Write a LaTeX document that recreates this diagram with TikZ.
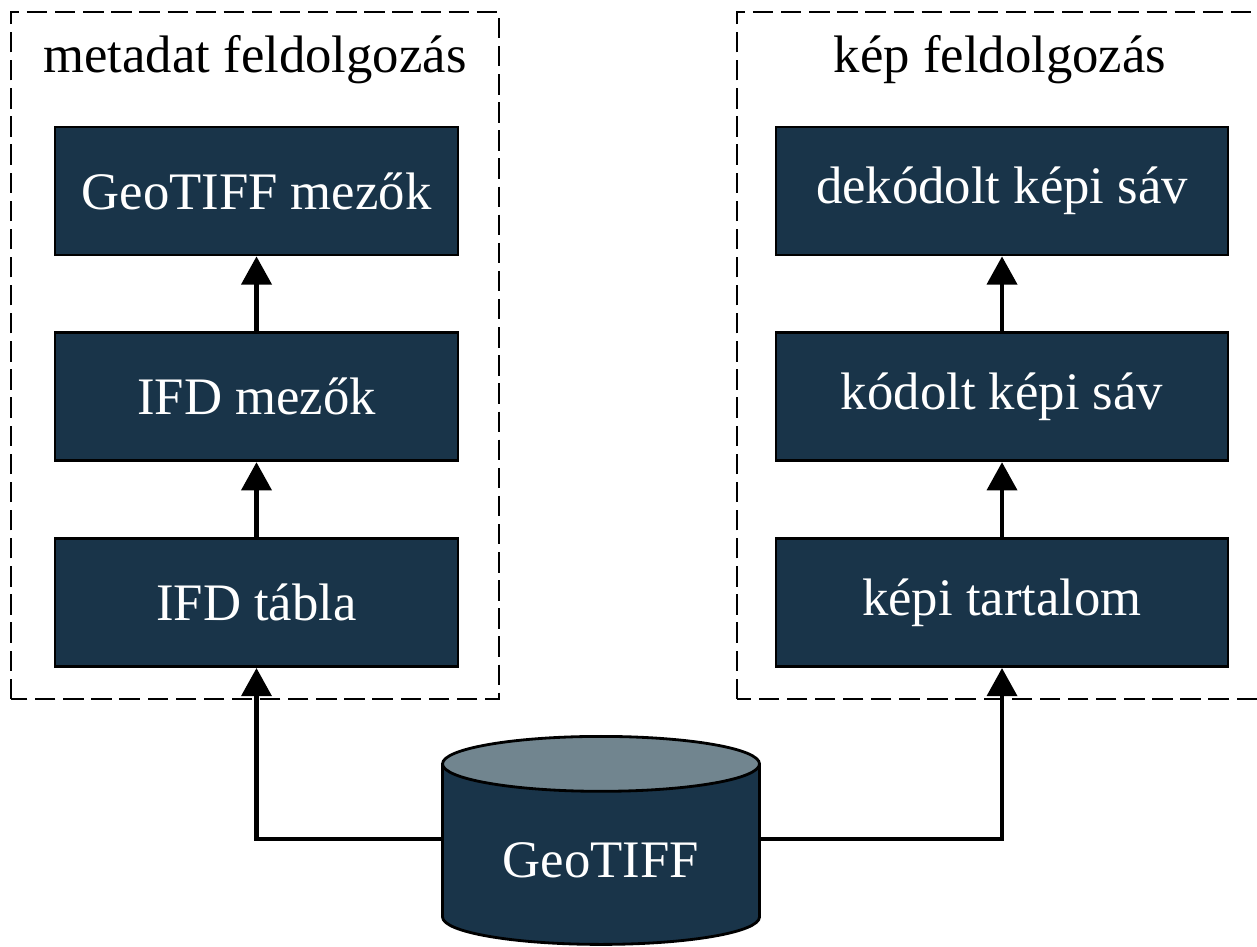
\documentclass[tikz,border=0pt]{standalone}
\usepackage{fontspec}
\setmainfont{Liberation Serif}
\definecolor{boxblue}{HTML}{193449}
\definecolor{topgray}{HTML}{71858F}
\usetikzlibrary{arrows.meta, positioning, shapes.geometric}

\begin{document}
\begin{tikzpicture}[
	box/.style={draw=black, line width=0.8pt, fill=boxblue, text=white, minimum height=1.28cm, font=\fontsize{15}{18}\selectfont},
	frame/.style={draw=black, line width=0.45pt, dash pattern=on 5.8pt off 2.2pt},
	title/.style={font=\fontsize{15}{18}\selectfont},
	flow/.style={line width=1.2pt, -{Triangle[length=8pt,width=8.5pt]}},
	node distance=0.75cm]
	\useasboundingbox (0,0) rectangle (12.57,9.46);
	% Frames
	\draw[frame] (0.11,2.47) rectangle (4.99,9.34);
	\draw[frame] (7.37,2.47) rectangle (12.80,9.34);
	\node[title] (meta) at (2.55,8.86) {metadat feldolgozás};
	\node[title] (kep) at (10.00,8.86) {kép feldolgozás};
	% metadata column
	\node[box, minimum width=4.03cm] (mezok) at (2.565,7.55) {GeoTIFF mezők};
	\node[box, minimum width=4.03cm, below=of mezok] (ifd) {IFD mezők};
	\node[box, minimum width=4.03cm, below=of ifd] (tabla) {IFD tábla};
	% image column
	\node[box, minimum width=4.52cm] (dekod) at (10.02,7.55) {dekódolt képi sáv};
	\node[box, minimum width=4.52cm, below=of dekod] (kodolt) {kódolt képi sáv};
	\node[box, minimum width=4.52cm, below=of kodolt] (tartalom) {képi tartalom};
	% source
	\node[cylinder, shape border rotate=90, aspect=0.25, draw=black, line width=0.8pt,
		cylinder uses custom fill, cylinder body fill=boxblue, cylinder end fill=topgray,
		minimum width=3.17cm, minimum height=2.08cm, text=white,
		font=\fontsize{15}{18}\selectfont] (geotiff) at (6.01,0.86) {GeoTIFF};
	% arrows
	\draw[flow] ([yshift=0.21cm]geotiff.west) -| (tabla.south);
	\draw[flow] ([yshift=0.21cm]geotiff.east) -| (tartalom.south);
	\draw[flow] (tabla) -- (ifd);
	\draw[flow] (ifd) -- (mezok);
	\draw[flow] (tartalom) -- (kodolt);
	\draw[flow] (kodolt) -- (dekod);
\end{tikzpicture}
\end{document}
